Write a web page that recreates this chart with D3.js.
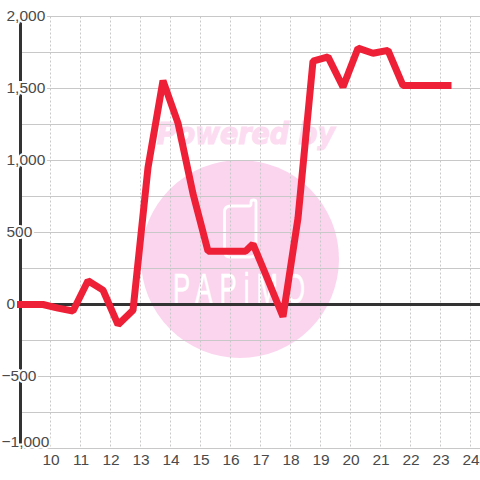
<!DOCTYPE html>
<html>
<head>
<meta charset="utf-8">
<script src="https://d3js.org/d3.v7.min.js"></script>
<style>
html, body { margin: 0; padding: 0; background: #fff; }
svg { display: block; font-family: "Liberation Sans", sans-serif; }
</style>
</head>
<body>
<div id="chart"></div>
<script>
// data
const hours = [9, 9.75, 10.25, 10.75, 11.25, 11.75, 12.25, 12.75, 13.25, 13.75, 14.25, 14.75,
    15.25, 15.75, 16.25, 16.5, 16.75, 17.25, 17.75, 18.25, 18.75, 19.25, 19.75, 20.25,
    20.75, 21.25, 21.75, 22.25, 22.75, 23.25];
const values = [0, 0, -25, -45, 165, 100, -140, -40, 950, 1555, 1260, 770,
    370, 370, 370, 370, 420, 170, -85, 600, 1690, 1720, 1510, 1780,
    1745, 1765, 1520, 1520, 1520, 1520];
const x_ticks = d3.range(10, 25);
const y_major = [2000, 1500, 1000, 500, 0, -500, -1000];
const y_minor = [1750, 1250, 750, 250, -250, -750];

const colors = {
    grid: "#c8c8c8",
    axis: "#333333",
    label: "#4a4a4a",
    line: "#ee2037",
    badge: "#fbd5ee"
};

const size = 480;
const x = d3.scaleLinear().domain([9, 25]).range([20.5, 500.5]);
const y = d3.scaleLinear().domain([-1000, 2000]).range([448.5, 16.5]);

const svg = d3.select("#chart").append("svg")
    .attr("width", size)
    .attr("height", size);

// watermark behind the grid
const mark = svg.append("g").attr("class", "watermark");
mark.append("circle")
    .attr("cx", 240).attr("cy", 259).attr("r", 99)
    .attr("fill", colors.badge);
mark.append("text")
    .attr("x", 246).attr("y", 144)
    .attr("text-anchor", "middle")
    .attr("font-size", 30)
    .attr("font-weight", "bold")
    .attr("font-style", "italic")
    .attr("font-family", "'DejaVu Sans', sans-serif")
    .attr("fill", "#fcdcf1")
    .attr("stroke", "#fcdcf1")
    .attr("stroke-width", 1.2)
    .attr("textLength", 178)
    .attr("lengthAdjust", "spacingAndGlyphs")
    .text("Powered by");
mark.append("path")
    .attr("d", "M231 206 L249 206 Q251 206 251 204 L251 202 Q251 200 253.5 200 Q256 200 256 202 L256 251 Q256 257 250 257 L230 257 Q224.5 257 224.5 251 L224.5 212 Q224.5 206 231 206 Z")
    .attr("fill", "none")
    .attr("stroke", "#fff")
    .attr("stroke-width", 2.8);
mark.append("text")
    .attr("transform", "translate(173,303) scale(0.6,1)")
    .attr("font-size", 43)
    .attr("fill", "#fff")
    .attr("stroke", "#fff")
    .attr("stroke-width", 0.6)
    .attr("textLength", 220)
    .text("PAPiMO");

// grid
const grid = svg.append("g").attr("class", "grid");
grid.selectAll("line.h")
    .data(y_major.concat(y_minor))
    .enter().append("line")
    .attr("class", "h")
    .attr("x1", 20).attr("x2", size)
    .attr("y1", d => y(d)).attr("y2", d => y(d))
    .attr("stroke", colors.grid)
    .attr("stroke-width", 1.2);
grid.selectAll("line.v")
    .data(x_ticks)
    .enter().append("line")
    .attr("class", "v")
    .attr("x1", d => x(d)).attr("x2", d => x(d))
    .attr("y1", y(2000)).attr("y2", y(-1000))
    .attr("stroke", colors.grid)
    .attr("stroke-dasharray", "2,2");

// thick axis lines
svg.append("line")
    .attr("x1", x(9)).attr("x2", x(9))
    .attr("y1", y(2000)).attr("y2", y(-1000))
    .attr("stroke", colors.axis).attr("stroke-width", 3);
svg.append("line")
    .attr("x1", 20).attr("x2", size)
    .attr("y1", y(0)).attr("y2", y(0))
    .attr("stroke", colors.axis).attr("stroke-width", 3);

// y labels sit on the axis with a white halo, digits lined up on the left
const y_axis = d3.axisLeft(y).tickValues(y_major).tickSize(0).tickPadding(0)
    .tickFormat(d3.format(","));
svg.append("g")
    .call(y_axis)
    .call(g => g.select(".domain").remove())
    .selectAll("text")
    .attr("text-anchor", "start")
    .attr("x", d => d < 0 ? 1.5 : 6.5)
    .attr("y", d => d === -1000 ? -7 : -0.5)
    .attr("font-size", 15.5)
    .attr("font-family", "'Liberation Sans', sans-serif")
    .attr("fill", colors.label)
    .attr("stroke", "#fff")
    .attr("stroke-width", 4)
    .attr("paint-order", "stroke");

const x_axis = d3.axisBottom(x).tickValues(x_ticks).tickSize(0).tickPadding(0)
    .tickFormat(d3.format("d"));
svg.append("g")
    .attr("transform", "translate(0,454)")
    .call(x_axis)
    .call(g => g.select(".domain").remove())
    .selectAll("text")
    .attr("font-size", 15.5)
    .attr("font-family", "'Liberation Sans', sans-serif")
    .attr("fill", colors.label);

// series
const line = d3.line()
    .x(d => x(d[0]))
    .y(d => y(d[1]));
svg.append("path")
    .datum(d3.zip(hours, values))
    .attr("d", line)
    .attr("fill", "none")
    .attr("stroke", colors.line)
    .attr("stroke-width", 7)
    .attr("stroke-linecap", "square")
    .attr("stroke-linejoin", "bevel");
</script>
</body>
</html>
